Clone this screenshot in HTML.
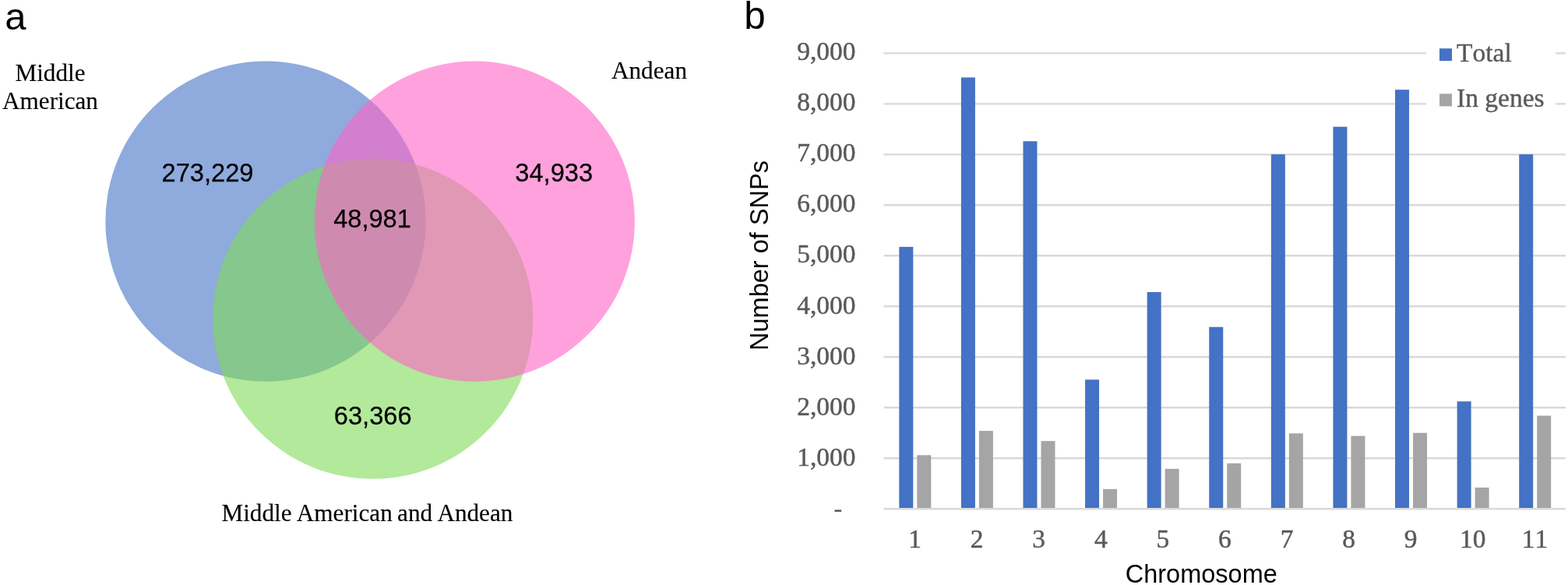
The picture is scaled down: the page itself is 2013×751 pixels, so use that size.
<!DOCTYPE html>
<html lang="en">
<head>
<meta charset="utf-8">
<title>SNP Venn diagram and chromosome distribution</title>
<style>
html,body{margin:0;padding:0;background:#fff;}
body{width:2013px;height:751px;overflow:hidden;}
svg{display:block;}
.sans{font-family:"Liberation Sans",Arial,Helvetica,sans-serif;}
.serif{font-family:"Liberation Serif","Times New Roman",Times,serif;}
text{font-kerning:none;}
</style>
</head>
<body>
<svg width="2013" height="751" viewBox="0 0 2013 751">
<rect width="2013" height="751" fill="#ffffff"/>

<g id="venn">
<circle cx="341" cy="284.2" r="205.6" fill="#4472C4" fill-opacity="0.6"/>
<circle cx="478.7" cy="409.2" r="205.6" fill="#7FDA57" fill-opacity="0.6"/>
<circle cx="609.3" cy="284.2" r="205.6" fill="#FF62C6" fill-opacity="0.6"/>
</g>
<g class="sans" font-size="32.6" fill="#000" stroke="#000" stroke-width="0.25" text-anchor="middle">
<text x="266.5" y="233.3">273,229</text>
<text x="711.2" y="233.3">34,933</text>
<text x="478" y="292.2">48,981</text>
<text x="478.7" y="544.5">63,366</text>
</g>
<g class="serif" font-size="31.2" fill="#000" stroke="#000" stroke-width="0.15" text-anchor="middle">
<text x="64.5" y="104">Middle</text>
<text x="64.5" y="140">American</text>
<text x="833.5" y="101">Andean</text>
<text x="471.4" y="668.6" word-spacing="-1.5">Middle American and Andean</text>
</g>
<g class="sans" font-size="49" fill="#000">
<text x="6.2" y="37.5">a</text>
<text x="955.2" y="37.4" font-size="49.4">b</text>
</g>
<g id="grid" stroke="#D9D9D9" stroke-width="2.4">
<line x1="1134.5" y1="653.20" x2="2010" y2="653.20"/>
<line x1="1134.5" y1="588.22" x2="2010" y2="588.22"/>
<line x1="1134.5" y1="523.24" x2="2010" y2="523.24"/>
<line x1="1134.5" y1="458.26" x2="2010" y2="458.26"/>
<line x1="1134.5" y1="393.28" x2="2010" y2="393.28"/>
<line x1="1134.5" y1="328.30" x2="2010" y2="328.30"/>
<line x1="1134.5" y1="263.32" x2="2010" y2="263.32"/>
<line x1="1134.5" y1="198.34" x2="2010" y2="198.34"/>
<line x1="1134.5" y1="133.36" x2="1831" y2="133.36"/>
<line x1="1997" y1="133.36" x2="2010" y2="133.36"/>
<line x1="1134.5" y1="68.38" x2="1831" y2="68.38"/>
<line x1="1997" y1="68.38" x2="2010" y2="68.38"/>
</g>
<g id="bars">
<rect x="1154.30" y="316.93" width="18.0" height="335.07" fill="#4472C4"/>
<rect x="1177.30" y="584.32" width="18.0" height="67.68" fill="#A5A5A5"/>
<rect x="1233.89" y="99.44" width="18.0" height="552.56" fill="#4472C4"/>
<rect x="1256.89" y="553.13" width="18.0" height="98.87" fill="#A5A5A5"/>
<rect x="1313.48" y="181.32" width="18.0" height="470.68" fill="#4472C4"/>
<rect x="1336.48" y="566.13" width="18.0" height="85.87" fill="#A5A5A5"/>
<rect x="1393.07" y="487.37" width="18.0" height="164.63" fill="#4472C4"/>
<rect x="1416.07" y="627.86" width="18.0" height="24.14" fill="#A5A5A5"/>
<rect x="1472.66" y="374.96" width="18.0" height="277.04" fill="#4472C4"/>
<rect x="1495.66" y="601.87" width="18.0" height="50.13" fill="#A5A5A5"/>
<rect x="1552.25" y="419.79" width="18.0" height="232.21" fill="#4472C4"/>
<rect x="1575.25" y="594.72" width="18.0" height="57.28" fill="#A5A5A5"/>
<rect x="1631.85" y="198.15" width="18.0" height="453.85" fill="#4472C4"/>
<rect x="1654.85" y="556.38" width="18.0" height="95.62" fill="#A5A5A5"/>
<rect x="1711.44" y="162.73" width="18.0" height="489.27" fill="#4472C4"/>
<rect x="1734.44" y="559.63" width="18.0" height="92.37" fill="#A5A5A5"/>
<rect x="1791.03" y="115.17" width="18.0" height="536.83" fill="#4472C4"/>
<rect x="1814.03" y="555.73" width="18.0" height="96.27" fill="#A5A5A5"/>
<rect x="1870.62" y="515.31" width="18.0" height="136.69" fill="#4472C4"/>
<rect x="1893.62" y="625.91" width="18.0" height="26.09" fill="#A5A5A5"/>
<rect x="1950.21" y="198.15" width="18.0" height="453.85" fill="#4472C4"/>
<rect x="1973.21" y="533.64" width="18.0" height="118.36" fill="#A5A5A5"/>
</g>
<g class="serif" font-size="33.5" fill="#595959" stroke="#595959" stroke-width="0.45" text-anchor="end">
<text transform="translate(1098.5 597.86) scale(1 1.03)">1,000</text>
<text transform="translate(1098.5 532.76) scale(1 1.03)">2,000</text>
<text transform="translate(1098.5 467.66) scale(1 1.03)">3,000</text>
<text transform="translate(1098.5 402.56) scale(1 1.03)">4,000</text>
<text transform="translate(1098.5 337.46) scale(1 1.03)">5,000</text>
<text transform="translate(1098.5 272.36) scale(1 1.03)">6,000</text>
<text transform="translate(1098.5 207.26) scale(1 1.03)">7,000</text>
<text transform="translate(1098.5 142.16) scale(1 1.03)">8,000</text>
<text transform="translate(1098.5 77.06) scale(1 1.03)">9,000</text>
<text x="1081.3" y="663.80" stroke="none">-</text>
</g>
<g class="serif" font-size="33.5" fill="#595959" stroke="#595959" stroke-width="0.45" text-anchor="middle">
<text transform="translate(1174.50 702.8) scale(1 1.03)">1</text>
<text transform="translate(1254.09 702.8) scale(1 1.03)">2</text>
<text transform="translate(1333.68 702.8) scale(1 1.03)">3</text>
<text transform="translate(1413.27 702.8) scale(1 1.03)">4</text>
<text transform="translate(1492.86 702.8) scale(1 1.03)">5</text>
<text transform="translate(1572.45 702.8) scale(1 1.03)">6</text>
<text transform="translate(1652.04 702.8) scale(1 1.03)">7</text>
<text transform="translate(1731.63 702.8) scale(1 1.03)">8</text>
<text transform="translate(1811.22 702.8) scale(1 1.03)">9</text>
<text transform="translate(1890.81 702.8) scale(1 1.03)">10</text>
<text transform="translate(1970.40 702.8) scale(1 1.03)">11</text>
</g>
<g id="legend">
<rect x="1848" y="62.2" width="16" height="16" fill="#4472C4"/>
<rect x="1848" y="120.4" width="16" height="16" fill="#A5A5A5"/>
<g class="serif" font-size="33.5" fill="#595959" stroke="#595959" stroke-width="0.35">
<text x="1870" y="79">Total</text>
<text x="1870" y="137.4">In genes</text>
</g></g>
<g class="sans" font-size="32.5" fill="#000" text-anchor="middle">
<text x="1542.3" y="748">Chromosome</text>
<text transform="translate(985.5 328) rotate(-90)">Number of SNPs</text>
</g>
</svg>
</body>
</html>
